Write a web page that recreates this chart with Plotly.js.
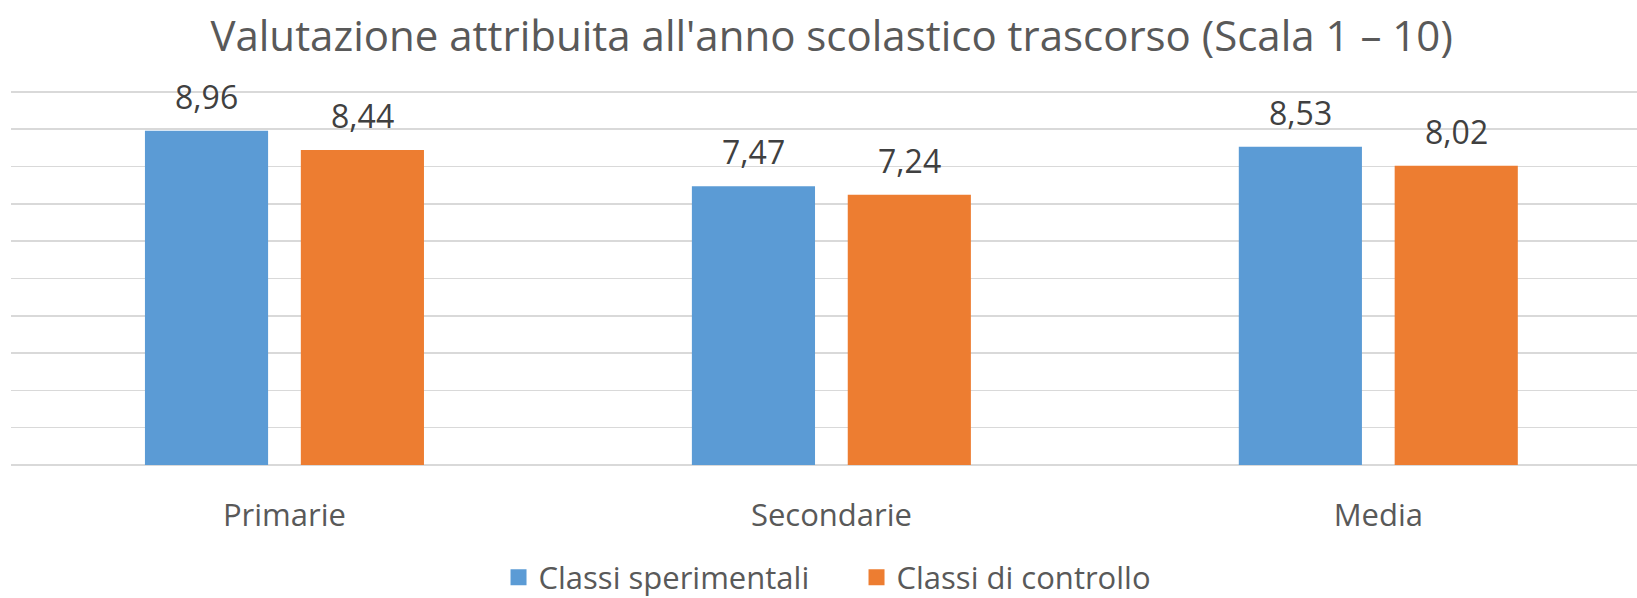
<!DOCTYPE html>
<html>
<head>
<meta charset="utf-8">
<script src="https://cdn.plot.ly/plotly-3.0.1.min.js"></script>
<style>html,body{margin:0;padding:0;background:#fff;}#chart{width:1637px;height:598px;}</style>
</head>
<body>
<div id="chart"></div>
<script>
const categories = ['Primarie', 'Secondarie', 'Media'];
const seriesNames = ['Classi sperimentali', 'Classi di controllo'];
const sperimentali = [8.96, 7.47, 8.53];
const controllo = [8.44, 7.24, 8.02];
const colors = ['#5B9BD5', '#ED7D31'];
const titleText = "Valutazione attribuita all'anno scolastico trascorso (Scala 1 – 10)";

const FONT = 'Open Sans, sans-serif';
const GREY = '#595959';
const fmt = v => v.toFixed(2).replace('.', ',');
const allSeries = [sperimentali, controllo];

const traces = allSeries.map((vals, i) => ({
  type: 'bar',
  name: seriesNames[i],
  x: categories,
  y: vals,
  marker: {color: colors[i]},
  showlegend: false,
  hoverinfo: 'none'
}));
// legend-only entries with larger square swatches
allSeries.forEach((vals, i) => {
  traces.push({
    type: 'scatter', mode: 'markers', name: seriesNames[i],
    x: [null], y: [null],
    marker: {symbol: 'square', size: 20, color: colors[i]},
    showlegend: true, hoverinfo: 'none'
  });
});

const annotations = [];
allSeries.forEach((vals, i) => {
  vals.forEach((v, j) => {
    annotations.push({
      x: categories[j], y: v, xref: 'x', yref: 'y',
      text: fmt(v), showarrow: false,
      xanchor: 'center', yanchor: 'bottom',
      xshift: i === 0 ? -78 : 78, yshift: 11,
      font: {family: FONT, size: 32, color: '#404040'}
    });
  });
});

const layout = {
  width: 1637, height: 598,
  margin: {l: 11, r: 0, t: 90, b: 133, autoexpand: false},
  paper_bgcolor: '#fff', plot_bgcolor: '#fff',
  separators: ',.',
  title: {text: titleText, font: {family: FONT, size: 42, color: GREY}, x: 0.508, xanchor: 'center', y: 0.94, yanchor: 'middle'},
  barmode: 'group',
  bargap: 0.43,
  bargroupgap: 0.21,
  xaxis: {
    range: [-0.5, 2.473],
    showgrid: false, zeroline: false, showline: false, ticks: '',
    ticklabelstandoff: 29,
    tickfont: {family: FONT, size: 31, color: GREY}
  },
  yaxis: {
    range: [0, 10.05], dtick: 1, tick0: 0,
    showgrid: true, gridcolor: '#D9D9D9', gridwidth: 1.5,
    zeroline: true, zerolinecolor: '#D9D9D9', zerolinewidth: 1.5,
    showticklabels: false, ticks: '', showline: false
  },
  showlegend: true,
  legend: {
    orientation: 'h', x: 0.52, xanchor: 'center', y: -0.30, yanchor: 'middle',
    font: {family: FONT, size: 31, color: GREY},
    itemwidth: 30, tracegroupgap: 0,
    entrywidth: 313, entrywidthmode: 'pixels'
  },
  annotations: annotations
};

Plotly.newPlot('chart', traces, layout, {displayModeBar: false, staticPlot: true});
</script>
</body>
</html>
